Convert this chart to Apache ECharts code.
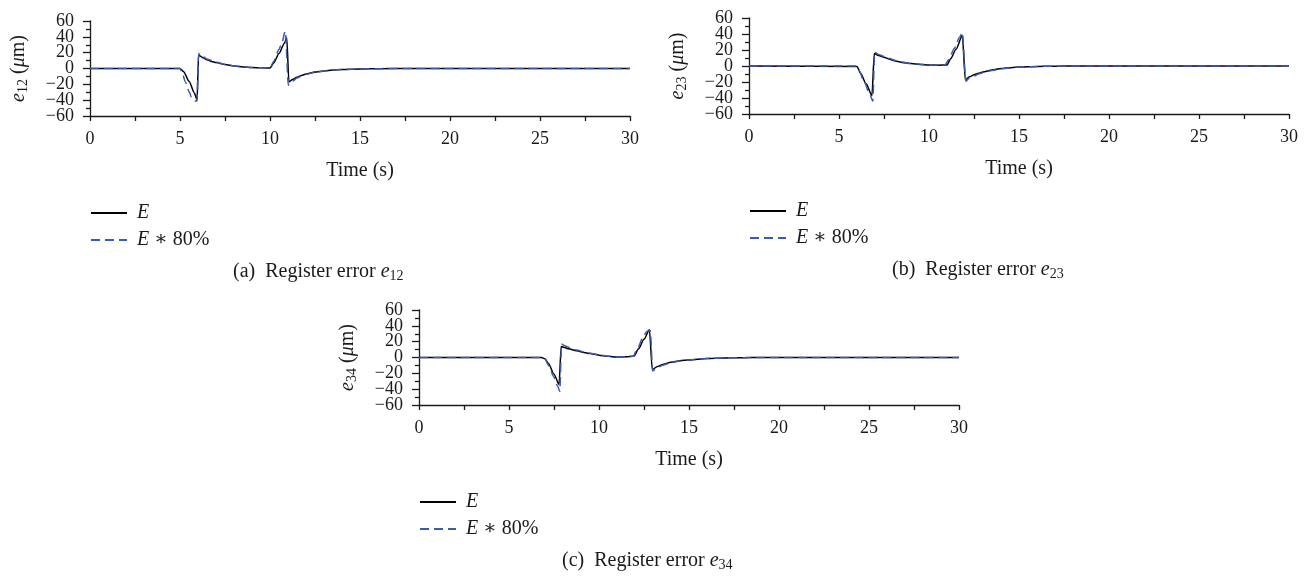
<!DOCTYPE html>
<html>
<head>
<meta charset="utf-8">
<script src="https://cdn.jsdelivr.net/npm/echarts@6/dist/echarts.min.js"></script>
<style>
  html, body { margin: 0; padding: 0; background: #fff; }
  #chart { width: 1310px; height: 576px; }
</style>
</head>
<body>
<div id="chart"></div>
<script>
// Register errors between neighbouring print units (µm) over time (s)

// (a) e12 — full tension E
const t12 = [0, 5, 5.2, 5.5, 5.8, 5.95, 6.03, 6.25, 6.5, 6.75, 7, 7.5, 8, 8.5, 9, 9.5, 10, 10.2, 10.5, 10.8, 10.93, 11.05, 11.25, 11.5, 11.75, 12, 12.5, 13, 13.5, 14, 15, 16, 18, 30];
const e12 = [0, 0, -4, -16, -31, -40, 17, 14, 11, 9, 7.5, 5, 3.2, 2, 1.2, 0.8, 0.5, 7, 19, 32, 39, -17, -14, -11, -8.8, -7, -4.5, -3, -2, -1.2, -0.5, -0.2, 0, 0];
// (a) e12 — tension E * 80%
const t12s = [0, 5, 5.1, 5.3, 5.5, 5.65, 5.85, 5.94, 6.04, 6.25, 6.5, 6.75, 7, 7.5, 8, 8.5, 9, 9.5, 10, 10.2, 10.5, 10.65, 10.85, 11.02, 11.25, 11.5, 11.75, 12, 12.5, 13, 13.5, 14, 15, 16, 18, 30];
const e12s = [0, 0, -4, -17, -29, -37, -41, -41, 19, 15.5, 12, 10, 8, 5.2, 3.3, 2.1, 1.3, 0.8, 0.6, 9, 24, 32, 47, -21, -16, -12, -9.5, -7.5, -4.8, -3.2, -2.1, -1.3, -0.5, -0.2, 0, 0];

// (b) e23 — full tension E
const t23 = [0, 6, 6.2, 6.5, 6.83, 6.96, 7.2, 7.5, 7.8, 8.2, 8.5, 9, 9.5, 10, 10.5, 11, 11.2, 11.5, 11.85, 12.02, 12.25, 12.5, 12.75, 13, 13.5, 14, 15, 16, 17, 18, 30];
const e23 = [0, -0.5, -9, -22, -37, 15.5, 13, 11, 8.5, 6, 4.5, 3, 2, 1.3, 1, 1.2, 9, 21, 38, -17, -13.5, -11, -9, -7.5, -5, -3.2, -1.2, -0.5, -0.2, 0, 0];
// (b) e23 — tension E * 80%
const t23s = [0, 5.95, 6.1, 6.4, 6.7, 6.88, 6.98, 7.2, 7.5, 7.8, 8.2, 8.5, 9, 9.5, 10, 10.5, 10.9, 11.1, 11.4, 11.7, 11.85, 12.05, 12.25, 12.5, 12.75, 13, 13.5, 14, 15, 16, 17, 18, 30];
const e23s = [0, 0, -5, -20, -35, -44, 17, 14.5, 12, 9.5, 6.5, 5, 3.3, 2.2, 1.5, 1.2, 1.5, 8, 22, 36, 42, -19, -15, -12.5, -10, -8.5, -5.5, -3.5, -1.4, -0.5, -0.2, 0, 0];

// (c) e34 — full tension E
const t34 = [0, 6.8, 7, 7.2, 7.5, 7.78, 7.9, 8.1, 8.3, 8.75, 9.25, 9.5, 10, 10.5, 11, 11.5, 11.95, 12.2, 12.5, 12.8, 12.96, 13.25, 13.5, 14, 14.5, 15, 16, 17, 18, 19, 30];
const e34 = [0, 0, -1.5, -8, -21, -34, 14, 12.5, 11, 8.5, 6, 5, 3, 1.5, 0.5, 1, 1.8, 11, 23, 35, -15, -11.5, -9, -6, -4.2, -3, -1.2, -0.5, -0.2, 0, 0];
// (c) e34 — tension E * 80%
const t34s = [0, 6.8, 7, 7.2, 7.5, 7.7, 7.82, 7.92, 8.1, 8.3, 8.75, 9.25, 9.5, 10, 10.5, 11, 11.5, 11.9, 12.15, 12.45, 12.65, 12.85, 12.98, 13.25, 13.5, 14, 14.5, 15, 16, 17, 18, 19, 30];
const e34s = [0, 0, -2, -10, -25, -36, -43, 17, 15, 13, 9.5, 6.5, 5.5, 3.3, 1.7, 0.7, 1, 1.5, 12, 26, 33, 34, -17, -13, -10, -6.5, -4.5, -3.2, -1.3, -0.5, -0.2, 0, 0];

const seriesNames = ['E', 'E * 80%'];
const xTicks = { min: 0, max: 30, interval: 5 };
const yTicks = { min: -60, max: 60, interval: 20 };
// y tick labels, split into two alternating sets so the tightly packed labels all stay visible
const yLabelsOdd = [-60, -20, 20, 60];
const yLabelsEven = [-40, 0, 40];
const subscripts = ['12', '23', '34'];
const captionTags = ['(a)', '(b)', '(c)'];

const FONT = '"Liberation Serif", "DejaVu Serif", serif';
const INK = '#1a1a1a';
const BLUE = '#3a5cae';

// panel frames: left, top, height of each plot area
const panels = [
  { left: 90, top: 21, height: 95 },
  { left: 749, top: 18, height: 96 },
  { left: 419, top: 310, height: 95 }
];
const plotWidth = 540;

const zip = (ts, vs) => ts.map((t, i) => [t, vs[i]]);
const solidData = [zip(t12, e12), zip(t23, e23), zip(t34, e34)];
const dashedData = [zip(t12s, e12s), zip(t23s, e23s), zip(t34s, e34s)];

const italic = { fontStyle: 'italic', fontFamily: FONT, fontSize: 20, color: INK, lineHeight: 22 };
const sub = { fontFamily: FONT, fontSize: 14, color: INK, verticalAlign: 'bottom', lineHeight: 12 };
const minus = v => String(v).replace('-', '\u2212');

const grids = panels.map(p => ({ left: p.left, top: p.top, width: plotWidth, height: p.height }));

const xAxes = panels.map((p, i) => ({
  gridIndex: i, type: 'value', min: xTicks.min, max: xTicks.max, interval: xTicks.interval,
  name: 'Time (s)', nameLocation: 'middle', nameGap: 45,
  nameTextStyle: { fontFamily: FONT, fontSize: 20, color: INK },
  axisLine: { onZero: false, lineStyle: { color: INK, width: 1.3 } },
  axisTick: { inside: false, length: 5, lineStyle: { color: INK, width: 1.3 } },
  minorTick: { show: true, splitNumber: 2, length: 5, lineStyle: { color: INK, width: 1.3 } },
  axisLabel: { margin: 14, fontFamily: FONT, fontSize: 18, color: INK, showMinLabel: true, showMaxLabel: true },
  splitLine: { show: false }
}));

const yLabelStyle = { margin: 16, fontFamily: FONT, fontSize: 18, color: INK, formatter: minus };

// main y axes: line, ticks, name and every other label
const yAxesMain = panels.map((p, i) => ({
  gridIndex: i, type: 'value', position: 'left', min: yTicks.min, max: yTicks.max, interval: yTicks.interval,
  name: '{i|e}{s|' + subscripts[i] + '} (' + '{i|\u03bc}m)',
  nameLocation: 'middle', nameRotate: 90, nameGap: 60,
  nameTextStyle: { fontFamily: FONT, fontSize: 20, color: INK, lineHeight: 22, rich: { i: italic, s: sub } },
  axisLine: { onZero: false, lineStyle: { color: INK, width: 1.3 } },
  axisTick: { inside: false, length: 7, lineStyle: { color: INK, width: 1.3 } },
  minorTick: { show: true, splitNumber: 2, length: 4, lineStyle: { color: INK, width: 1.3 } },
  axisLabel: Object.assign({ customValues: yLabelsOdd }, yLabelStyle),
  splitLine: { show: false }
}));

// companion y axes carrying the remaining labels
const yAxesAlt = panels.map((p, i) => ({
  gridIndex: i, type: 'value', position: 'left', offset: 0,
  min: yTicks.min, max: yTicks.max, interval: yTicks.interval,
  axisLine: { show: false, onZero: false }, axisTick: { show: false },
  axisLabel: Object.assign({ customValues: yLabelsEven }, yLabelStyle),
  splitLine: { show: false }
}));

const series = [];
panels.forEach((p, i) => {
  series.push({
    name: seriesNames[0], type: 'line', xAxisIndex: i, yAxisIndex: i,
    data: solidData[i], symbol: 'none', smooth: 0.25, smoothMonotone: 'x',
    lineStyle: { color: '#000', width: 1.5 }, itemStyle: { color: '#000' }
  });
  series.push({
    name: seriesNames[1], type: 'line', xAxisIndex: i, yAxisIndex: i,
    data: dashedData[i], symbol: 'none', smooth: 0.25, smoothMonotone: 'x',
    lineStyle: { color: BLUE, width: 1.5, type: [9, 5] }, itemStyle: { color: BLUE }
  });
});

const legends = panels.map(p => ({
  left: p.left, top: p.top + p.height + 87, orient: 'vertical', padding: 0,
  itemWidth: 36, itemHeight: 14, itemGap: 7, selectedMode: false,
  data: seriesNames,
  itemStyle: { opacity: 0 },
  formatter: n => n === seriesNames[0] ? '{i|E}' : '{i|E}{n| \u2217 80%}',
  textStyle: {
    fontFamily: FONT, fontSize: 20, color: INK, lineHeight: 20,
    rich: {
      i: { fontStyle: 'italic', fontFamily: FONT, fontSize: 20, color: INK, padding: [0, 0, 0, 5] },
      n: { fontFamily: FONT, fontSize: 20, color: INK }
    }
  }
}));

const captions = panels.map((p, i) => ({
  type: 'text',
  x: p.left + 143,
  y: p.top + p.height + 156,
  style: {
    text: captionTags[i] + '  Register error {i|e}{s|' + subscripts[i] + '}',
    fontFamily: FONT, fontSize: 20, fill: INK, verticalAlign: 'middle', lineHeight: 22,
    rich: {
      i: { fontStyle: 'italic', fontFamily: FONT, fontSize: 20, fill: INK, lineHeight: 22 },
      s: { fontFamily: FONT, fontSize: 14, fill: INK, verticalAlign: 'bottom', lineHeight: 12 }
    }
  }
}));

const chart = echarts.init(document.getElementById('chart'), null, { renderer: 'canvas' });
chart.setOption({
  animation: false,
  backgroundColor: '#fff',
  grid: grids,
  xAxis: xAxes,
  yAxis: yAxesMain.concat(yAxesAlt),
  legend: legends,
  series: series,
  graphic: captions
});
</script>
</body>
</html>
